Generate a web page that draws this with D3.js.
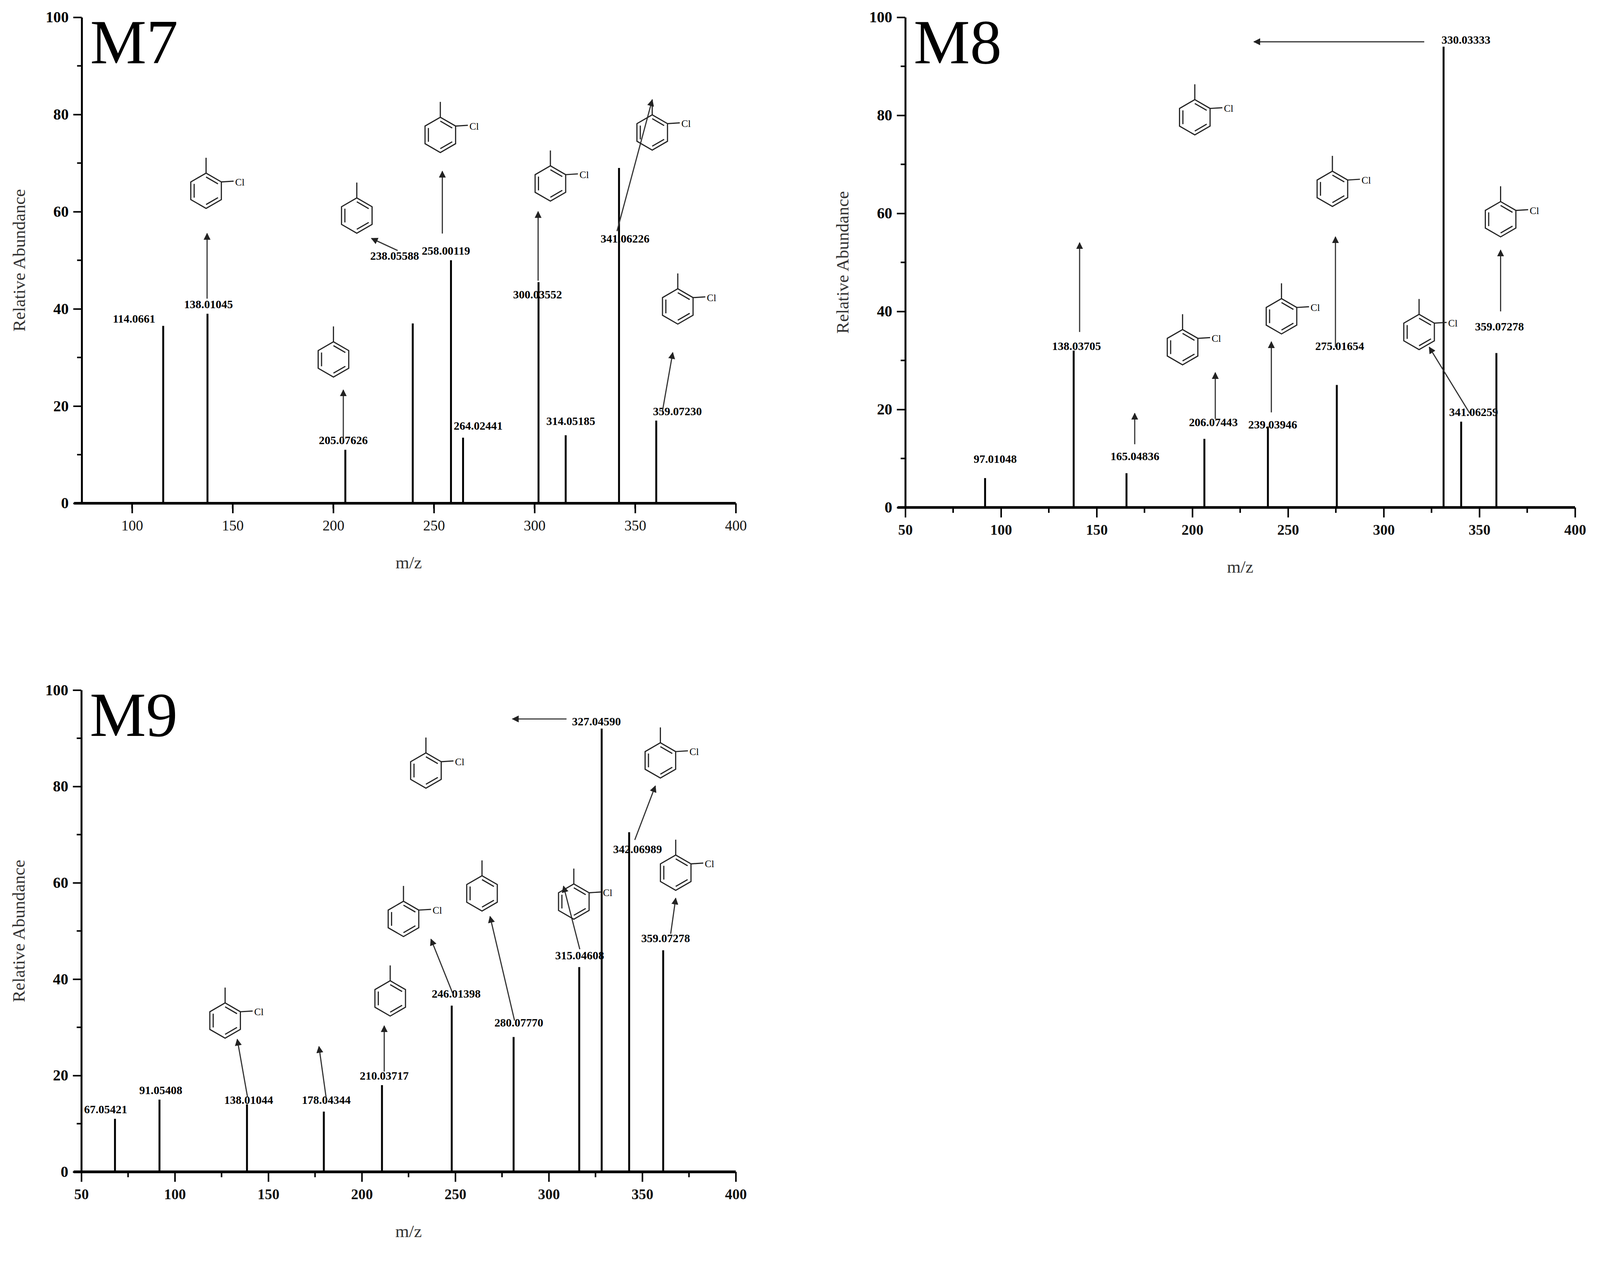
<!DOCTYPE html>
<html><head><meta charset="utf-8">
<script src="https://cdn.jsdelivr.net/npm/d3@7"></script>
<style>body{margin:0;background:#fff;overflow:hidden}text{font-family:"Liberation Serif","Times New Roman",serif}</style>
</head><body><div id="chart"></div>
<script>
// Peak data (m/z position, relative abundance, label)
var m7Mz = [115.5, 137.5, 206, 239.5, 258.5, 264.5, 302, 315.5, 342, 360.5];
var m7Ab = [36.5, 39, 11, 37, 50, 13.5, 45.5, 14, 69, 17];
var m7Lab = ["114.0661", "138.01045", "205.07626", "238.05588", "258.00119", "264.02441", "300.03552", "314.05185", "341.06226", "359.07230"];
var m7LabPos = [[101, 36.5], [138, 39.5], [205, 11.5], [230.5, 49.5], [256, 50.5], [272, 14.5], [301.5, 41.5], [318, 15.5], [345, 53], [371, 17.5]];

var m8Mz = [91.7, 138, 165.6, 206.3, 239.5, 275.5, 331.3, 340.5, 358.9];
var m8Ab = [6, 32, 7, 14, 16.5, 25, 94, 17.5, 31.5];
var m8Lab = ["97.01048", "138.03705", "165.04836", "206.07443", "239.03946", "275.01654", "330.03333", "341.06259", "359.07278"];
var m8LabPos = [[97, 8.5], [139.5, 31.5], [170, 9], [211, 16], [242, 15.5], [277, 31.5], [343, 94], [347, 18], [360.5, 35.5]];

var m9Mz = [68, 91.8, 138.6, 179.7, 210.8, 248.1, 281.2, 316.3, 328.3, 343, 361.2];
var m9Ab = [11, 15, 14, 12.5, 18, 34.5, 28, 42.5, 92, 70.5, 46];
var m9Lab = ["67.05421", "91.05408", "138.01044", "178.04344", "210.03717", "246.01398", "280.07770", "315.04608", "327.04590", "342.06989", "359.07278"];
var m9LabPos = [[63, 11.5], [92.5, 15.5], [139.5, 13.5], [181, 13.5], [212, 18.5], [250.5, 35.5], [284, 29.5], [316.5, 43.5], [325.5, 92], [347.5, 65.5], [362.5, 47]];

// annotation arrows: [mz1, ab1, mz2, ab2]
var m7Arrows = [[137.3, 42.1, 137.3, 55.5], [205, 13.2, 205, 23.3], [232, 52, 219, 54.5], [254.2, 55.5, 254.2, 68.3], [301.8, 45.8, 301.8, 60], [341, 56, 358.5, 83], [363.6, 19, 368.7, 31]];
var m8Arrows = [[321.2, 95, 232.2, 95], [141.1, 35.8, 141.1, 54], [169.9, 12.9, 169.9, 19.2], [212, 18.1, 212, 27.5], [241.3, 19.4, 241.3, 33.8], [274.8, 32.7, 274.8, 55.2], [345, 19.2, 323.8, 32.7], [361.1, 40, 361.1, 52.5]];
var m9Arrows = [[309.5, 94, 280.6, 94], [346, 68.9, 357, 80.1], [365.2, 49.4, 367.9, 56.8], [316.6, 46.2, 307.9, 59.3], [281.7, 31.4, 268.6, 53], [249, 36.7, 237, 48.3], [212, 20.8, 212, 30.3], [180.9, 15.5, 177.1, 26], [138.9, 15.5, 133.4, 27.5]];

// fragment structure placeholders: [mz, ab, substituent]
var m7Rings = [[136.8, 64.3, "Cl"], [211.7, 59.2, ""], [200.1, 29.6, ""], [253.2, 75.8, "Cl"], [307.9, 65.8, "Cl"], [358.5, 76.3, "Cl"], [371.2, 40.5, "Cl"]];
var m8Rings = [[201.3, 79.6, "Cl"], [273.2, 65, "Cl"], [194.9, 32.7, "Cl"], [246.6, 39, "Cl"], [318.5, 35.8, "Cl"], [361.1, 58.8, "Cl"]];
var m9Rings = [[126.9, 31.4, "Cl"], [215.2, 36, ""], [222.3, 52.5, "Cl"], [264.3, 57.8, ""], [313.4, 56.1, "Cl"], [234.3, 83.3, "Cl"], [359.7, 85.4, "Cl"], [367.9, 62.1, "Cl"]];

var xTicks7 = [100, 150, 200, 250, 300, 350, 400];
var xTicks89 = [50, 100, 150, 200, 250, 300, 350, 400];
var yTicks = [0, 20, 40, 60, 80, 100];

var W = 4172, H = 3282;
var svg = d3.select("#chart").append("svg").attr("width", W).attr("height", H);
var root = svg.append("g").attr("transform", "scale(0.982)");

var panels = [
  {name: "M7", mz: m7Mz, ab: m7Ab, lab: m7Lab, labPos: m7LabPos, arrows: m7Arrows, rings: m7Rings,
   x0: 75, ticks: xTicks7, boldX: false, left: 213, right: 1918, top: 45, bottom: 1312},
  {name: "M8", mz: m8Mz, ab: m8Ab, lab: m8Lab, labPos: m8LabPos, arrows: m8Arrows, rings: m8Rings,
   x0: 50, ticks: xTicks89, boldX: true, left: 2360, right: 4106, top: 45, bottom: 1323},
  {name: "M9", mz: m9Mz, ab: m9Ab, lab: m9Lab, labPos: m9LabPos, arrows: m9Arrows, rings: m9Rings,
   x0: 50, ticks: xTicks89, boldX: true, left: 212, right: 1918, top: 1799, bottom: 3055}
];

svg.append("defs").append("marker").attr("id", "ah")
  .attr("viewBox", "0 0 10 10").attr("refX", 9).attr("refY", 5)
  .attr("markerWidth", 6).attr("markerHeight", 6).attr("orient", "auto")
  .append("path").attr("d", "M0,0L10,5L0,10Z").attr("fill", "#222");

panels.forEach(function(p) {
  var x = d3.scaleLinear().domain([p.x0, 400]).range([p.left, p.right]);
  var y = d3.scaleLinear().domain([0, 100]).range([p.bottom, p.top]);
  var g = root.append("g");

  // minor ticks
  var xm = d3.range(p.x0 + 25, 400, 50);
  g.selectAll(".xm").data(xm).enter().append("line")
    .attr("x1", d => x(d)).attr("x2", d => x(d)).attr("y1", p.bottom).attr("y2", p.bottom + 14)
    .attr("stroke", "#000").attr("stroke-width", 4);
  g.selectAll(".ym").data(d3.range(10, 100, 20)).enter().append("line")
    .attr("x1", p.left - 12).attr("x2", p.left).attr("y1", d => y(d)).attr("y2", d => y(d))
    .attr("stroke", "#000").attr("stroke-width", 4);

  var xa = g.append("g").attr("transform", "translate(0," + p.bottom + ")")
    .call(d3.axisBottom(x).tickValues(p.ticks).tickSize(26).tickPadding(18).tickSizeOuter(0));
  xa.select(".domain").attr("stroke-width", 7).attr("d", "M" + (p.left - 20) + ",0H" + p.right);
  xa.selectAll(".tick line").attr("stroke-width", 4);
  xa.selectAll("text").attr("font-size", 38).attr("font-family", "Liberation Serif")
    .attr("font-weight", p.boldX ? "bold" : "normal").attr("fill", "#111");

  var ya = g.append("g").attr("transform", "translate(" + p.left + ",0)")
    .call(d3.axisLeft(y).tickValues(yTicks).tickSize(22).tickPadding(12).tickSizeOuter(0));
  ya.select(".domain").attr("stroke-width", 5);
  ya.selectAll(".tick line").attr("stroke-width", 4);
  ya.selectAll("text").attr("font-size", 40).attr("font-weight", "bold").attr("font-family", "Liberation Serif");

  // peaks
  g.selectAll(".peak").data(p.mz).enter().append("line")
    .attr("x1", d => x(d)).attr("x2", d => x(d)).attr("y1", p.bottom)
    .attr("y2", (d, i) => y(p.ab[i])).attr("stroke", "#000").attr("stroke-width", 5);

  // peak labels
  g.selectAll(".pl").data(p.lab).enter().append("text")
    .attr("x", (d, i) => x(p.labPos[i][0])).attr("y", (d, i) => y(p.labPos[i][1]) - 8)
    .attr("text-anchor", "middle").attr("font-size", 30).attr("font-weight", "bold").text(d => d);

  // arrows
  g.selectAll(".ar").data(p.arrows).enter().append("line")
    .attr("x1", d => x(d[0])).attr("y1", d => y(d[1])).attr("x2", d => x(d[2])).attr("y2", d => y(d[3]))
    .attr("stroke", "#333").attr("stroke-width", 3).attr("marker-end", "url(#ah)");

  // structure placeholders (benzene rings)
  var r = 46;
  p.rings.forEach(function(d) {
    var cx = x(d[0]), cy = y(d[1]);
    var pts = d3.range(6).map(k => [cx + r * Math.cos(Math.PI / 6 + k * Math.PI / 3), cy + r * Math.sin(Math.PI / 6 + k * Math.PI / 3)]);
    g.append("path").attr("d", "M" + pts.join("L") + "Z").attr("fill", "none").attr("stroke", "#222").attr("stroke-width", 3);
    [0, 2, 4].forEach(function(k) {
      var a = pts[k], b = pts[(k + 1) % 6];
      var s = 0.78;
      g.append("line").attr("x1", cx + (a[0] - cx) * s).attr("y1", cy + (a[1] - cy) * s)
        .attr("x2", cx + (b[0] - cx) * s).attr("y2", cy + (b[1] - cy) * s)
        .attr("stroke", "#222").attr("stroke-width", 3);
    });
    var top = pts[4], tr = pts[5];
    g.append("line").attr("x1", top[0]).attr("y1", top[1]).attr("x2", top[0]).attr("y2", top[1] - 40)
      .attr("stroke", "#222").attr("stroke-width", 3);
    if (d[2]) {
      g.append("line").attr("x1", tr[0]).attr("y1", tr[1]).attr("x2", tr[0] + 32).attr("y2", tr[1] - 2)
        .attr("stroke", "#222").attr("stroke-width", 3);
      g.append("text").attr("x", tr[0] + 36).attr("y", tr[1] + 9).attr("font-size", 26).text(d[2]);
    }
  });

  // titles
  g.append("text").attr("x", p.left + 22).attr("y", p.top + 120).attr("font-size", 165).text(p.name);
  g.append("text").attr("x", (p.left + p.right) / 2).attr("y", p.bottom + 170)
    .attr("text-anchor", "middle").attr("font-size", 46).attr("fill", "#333").text("m/z");
  g.append("text").attr("transform", "translate(" + (p.left - 148) + "," + ((p.top + p.bottom) / 2) + ") rotate(-90)")
    .attr("text-anchor", "middle").attr("font-size", 46).attr("fill", "#333").text("Relative Abundance");
});
</script></body></html>
